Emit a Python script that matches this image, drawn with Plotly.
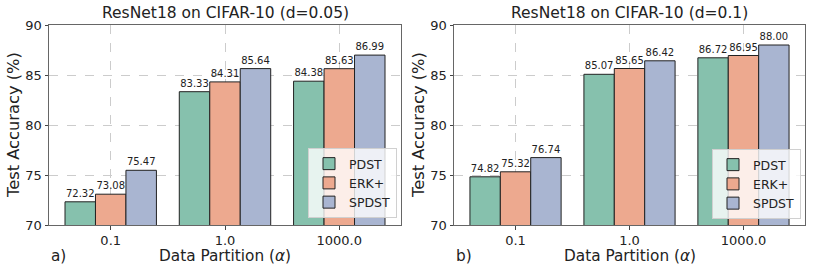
import plotly.graph_objects as go

categories = ["0.1", "1.0", "1000.0"]
methods = ["PDST", "ERK+", "SPDST"]
colors = ["#86c1ad", "#eda98f", "#a9b5d1"]

vals_a = {
    "PDST": [72.32, 83.33, 84.38],
    "ERK+": [73.08, 84.31, 85.63],
    "SPDST": [75.47, 85.64, 86.99],
}
vals_b = {
    "PDST": [74.82, 85.07, 86.72],
    "ERK+": [75.32, 85.65, 86.95],
    "SPDST": [76.74, 86.42, 88.00],
}
titles = ["ResNet18 on CIFAR-10 (d=0.05)", "ResNet18 on CIFAR-10 (d=0.1)"]
panel_labels = ["a)", "b)"]
y_ticks = [70, 75, 80, 85, 90]

FONT = "DejaVu Sans"
fig = go.Figure()

for i, (vals, leg) in enumerate([(vals_a, "legend"), (vals_b, "legend2")]):
    xa = "x" if i == 0 else "x2"
    ya = "y" if i == 0 else "y2"
    for m, c in zip(methods, colors):
        fig.add_trace(go.Bar(
            x=categories, y=vals[m], name=m, xaxis=xa, yaxis=ya,
            marker=dict(color=c, line=dict(color="#222222", width=1)),
            text=[f"{v:.2f}" for v in vals[m]], textposition="outside",
            textfont=dict(size=10, color="#222222", family=FONT),
            cliponaxis=False, legend=leg, offsetgroup=m,
        ))

ax_common = dict(
    showline=True, mirror=True, linecolor="#666666", linewidth=1,
    showgrid=True, gridcolor="#cccccc", griddash="dash", gridwidth=1,
    ticks="outside", ticklen=3.5, tickcolor="#444444",
    tickfont=dict(size=13, family=FONT, color="#222222"),
    zeroline=False, automargin=False,
)

doms = [(49 / 814, 401 / 814), (454 / 814, 805 / 814)]
ydom = (1 - 225 / 273, 1 - 25 / 273)

leg_common = dict(xanchor="right", yanchor="bottom",
                  bgcolor="rgba(255,255,255,0.8)", bordercolor="#d0d0d0",
                  borderwidth=1, font=dict(size=12.5, family=FONT),
                  tracegroupgap=0, itemwidth=30)

fig.update_layout(
    template="none",
    width=814, height=273,
    margin=dict(l=0, r=0, t=0, b=0, autoexpand=False),
    plot_bgcolor="white", paper_bgcolor="white",
    barmode="group", bargap=0.2, bargroupgap=0,
    font=dict(family=FONT, color="#222222"),
    xaxis=dict(domain=doms[0], anchor="y", type="category",
               range=[-0.54, 2.54], **ax_common),
    yaxis=dict(domain=ydom, anchor="x", range=[70, 90], tickvals=y_ticks,
               **ax_common),
    xaxis2=dict(domain=doms[1], anchor="y2", type="category",
                range=[-0.54, 2.54], **ax_common),
    yaxis2=dict(domain=ydom, anchor="x2", range=[70, 90], tickvals=y_ticks,
                **ax_common),
    legend=dict(x=397 / 814, y=1 - 218 / 273, **leg_common),
    legend2=dict(x=801 / 814, y=1 - 219 / 273, **leg_common),
    showlegend=True,
)

annotations = []
for i in range(2):
    x0, x1 = doms[i]
    xc = (x0 + x1) / 2
    annotations.append(dict(text=titles[i], x=xc, y=1 - 13 / 273, xref="paper",
                            yref="paper", showarrow=False, xanchor="center",
                            yanchor="middle", font=dict(size=15.5, family=FONT)))
    annotations.append(dict(text="Data Partition (<i>α</i>)", x=xc, y=1 - 256 / 273,
                            xref="paper", yref="paper", showarrow=False,
                            xanchor="center", yanchor="middle",
                            font=dict(size=15.3, family=FONT)))
    annotations.append(dict(text=panel_labels[i], x=x0, y=1 - 256 / 273,
                            xref="paper", yref="paper", showarrow=False,
                            xanchor="left", yanchor="middle",
                            font=dict(size=15.3, family=FONT)))
    annotations.append(dict(text="Test Accuracy (%)", x=(14 + 405 * i) / 814,
                            y=1 - 125 / 273, xref="paper", yref="paper",
                            showarrow=False, textangle=-90, xanchor="center",
                            yanchor="middle", font=dict(size=16.3, family=FONT)))
fig.update_layout(annotations=annotations)

fig.write_html("out.html", post_script="document.body.style.margin='0';",
               config={"displayModeBar": False})
